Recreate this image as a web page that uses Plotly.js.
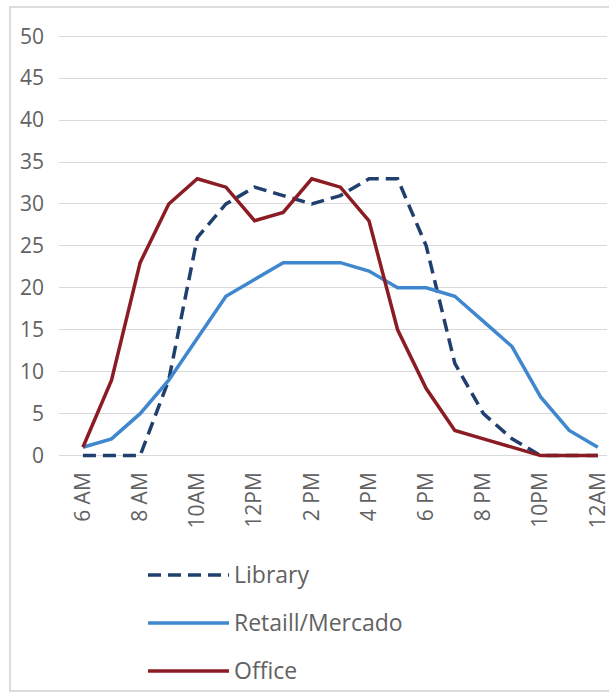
<!DOCTYPE html>
<html>
<head>
<meta charset="utf-8">
<script src="https://cdn.plot.ly/plotly-3.0.1.min.js"></script>
<style>
  html, body { margin: 0; padding: 0; background: #ffffff; }
  #wrap { position: relative; width: 609px; height: 696px; overflow: hidden; }
  #chart { width: 609px; height: 696px; }
  #frame { position: absolute; left: 9px; top: 6px; width: 640px; height: 686px;
           border: 2px solid #dcdcdc; pointer-events: none; box-sizing: border-box; }
</style>
</head>
<body>
<div id="wrap">
  <div id="chart"></div>
  <div id="frame"></div>
</div>
<script>
// ---- data ----
const hours = [6,7,8,9,10,11,12,13,14,15,16,17,18,19,20,21,22,23,24];
const tickHours = [6,8,10,12,14,16,18,20,22,24];
const tickLabels = ["6 AM","8 AM","10AM","12PM","2 PM","4 PM","6 PM","8 PM","10PM","12AM"];
const yTicks = [0,5,10,15,20,25,30,35,40,45,50];

const seriesNames = ["Library", "Retaill/Mercado", "Office"];
const library = [0,0,0,9,26,30,32,31,30,31,33,33,25,11,5,2,0,0,0];
const retail  = [1,2,5,9,14,19,21,23,23,23,22,20,20,19,16,13,7,3,1];
const office  = [1,9,23,30,33,32,28,29,33,32,28,15,8,3,2,1,0,0,0];

// ---- styles ----
const colors = ["#1f3f6e", "#3f87cf", "#8b1c24"];
const dashes = ["13px,7px", "solid", "solid"];
const lineW = 3.5;
const textColor = '#626262';

const W = 609, H = 696;
const M = {l: 59, r: 2, t: 32, b: 232};
const plotW = W - M.l - M.r, plotH = H - M.t - M.b;
const px2x = px => (px - M.l) / plotW;
const px2y = py => (H - M.b - py) / plotH;

const seriesData = [library, retail, office];
const traces = seriesData.map((vals, i) => ({
  x: hours, y: vals, type: 'scatter', mode: 'lines', name: seriesNames[i],
  line: {color: colors[i], width: lineW, dash: dashes[i], shape: 'linear'},
  cliponaxis: false, hoverinfo: 'skip'
}));

// custom legend (long line samples like the original)
const legY = [575, 623, 671];
const shapes = [], annotations = [];
seriesNames.forEach((nm, i) => {
  shapes.push({type: 'line', xref: 'paper', yref: 'paper',
    x0: px2x(148), x1: px2x(229), y0: px2y(legY[i]), y1: px2y(legY[i]),
    line: {color: colors[i], width: lineW, dash: dashes[i]}});
  annotations.push({xref: 'paper', yref: 'paper', x: px2x(232), y: px2y(legY[i] - 1),
    xanchor: 'left', yanchor: 'middle', showarrow: false, text: nm,
    font: {family: 'Open Sans, sans-serif', size: 23, color: textColor}});
});

const layout = {
  width: W, height: H,
  margin: M,
  paper_bgcolor: '#ffffff', plot_bgcolor: '#ffffff',
  showlegend: false,
  font: {family: 'Open Sans, sans-serif', color: textColor},
  xaxis: {
    type: 'linear', range: [5.164, 24.32],
    tickmode: 'array', tickvals: tickHours, ticktext: tickLabels,
    tickangle: -90, showgrid: false, zeroline: false, showline: false,
    ticks: '', tickfont: {size: 21, color: textColor}, ticklabelstandoff: 3,
    ticklabeloverflow: 'allow',
    fixedrange: true
  },
  yaxis: {
    range: [-1, 50.5], tickmode: 'array', tickvals: yTicks,
    showgrid: true, gridcolor: '#d9d9d9', gridwidth: 1,
    zeroline: false, showline: false, ticks: '',
    tickfont: {size: 21, color: textColor}, ticklabelstandoff: 14,
    fixedrange: true
  },
  shapes: shapes,
  annotations: annotations
};

Plotly.newPlot('chart', traces, layout, {displayModeBar: false, staticPlot: true});
</script>
</body>
</html>
